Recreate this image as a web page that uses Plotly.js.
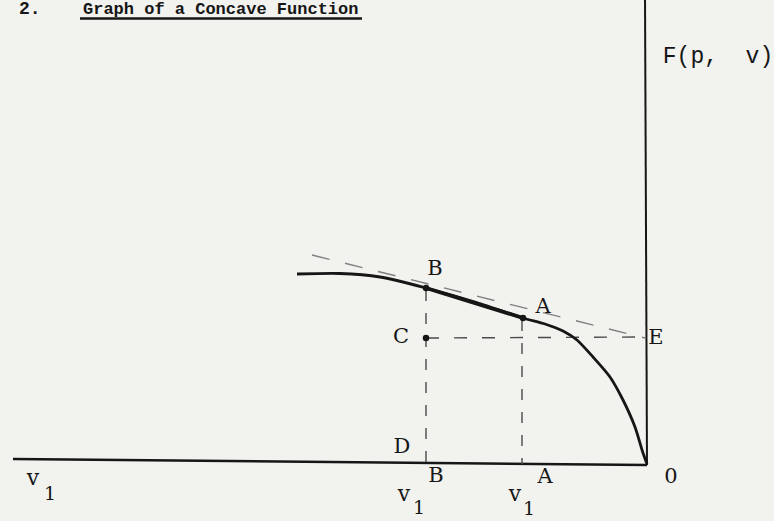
<!DOCTYPE html>
<html>
<head>
<meta charset="utf-8">
<script src="https://cdn.plot.ly/plotly-3.0.1.min.js"></script>
<style>
  html, body { margin: 0; padding: 0; background: #f2f2ef; }
  #plot_div { width: 774px; height: 521px; }
</style>
</head>
<body>
<div id="plot_div"></div>
<script>
// drawing coordinates (x to the right, y downwards)
const curve_x = [297, 340, 380, 426, 475, 523, 545, 563, 577, 593, 610, 623, 635, 643, 647];
const curve_y = [274, 273.5, 277, 288, 302, 318, 324, 331, 340, 357, 377, 400, 427, 453, 464];

const chord_x = [426, 523];
const chord_y = [288, 318];

const tangent_x = [312, 645];
const tangent_y = [255, 338];

const axis_h_x = [13, 647];
const axis_h_y = [459, 465];
const axis_v_x = [645, 647];
const axis_v_y = [-5, 465];

const drop_b_x = [426, 426];
const drop_b_y = [290, 463];
const drop_a_x = [522, 522];
const drop_a_y = [320, 464];
const level_x = [426, 645];
const level_y = [338, 337];

const dot_x = [426, 523, 426];
const dot_y = [288, 318, 338];

// point letters
const label_text = ['B', 'A', 'C', 'E', 'D', 'B', 'A', '0'];
const label_x = [435, 543, 401, 656, 402, 436, 545, 671];
const label_y = [270, 308, 338, 339, 448, 477, 478, 478];

const axis_name = 'F(p,  v)';
const axis_name_x = [718];
const axis_name_y = [57];

// v with its subscript 1, written as in the typescript
const v_x = [33, 404, 515];
const v_y = [479, 495, 495];
const sub_x = [50, 419, 529];
const sub_y = [495, 509, 510];

const serif = '"DejaVu Serif", serif';
const mono = '"Courier New", "Liberation Mono", monospace';
const ink = '#161616';

function seg(x, y, width, color, dash) {
    return {
        x, y, type: 'scatter', mode: 'lines', hoverinfo: 'skip',
        line: {color, width, dash: dash || 'solid'}
    };
}
function words(x, y, text, family, size) {
    return {
        x, y, text, type: 'scatter', mode: 'text', hoverinfo: 'skip',
        textposition: 'middle center',
        textfont: {family, size, color: ink}
    };
}

const curve = seg(curve_x, curve_y, 2.8, ink);
curve.line.shape = 'spline';
curve.line.smoothing = 0.7;

const data = [
    seg(axis_h_x, axis_h_y, 2.4, ink),
    seg(axis_v_x, axis_v_y, 2, ink),
    seg(tangent_x, tangent_y, 1.4, '#808080', '18px,16px'),
    seg(drop_b_x, drop_b_y, 1.4, '#4a4a4a', '11px,12px'),
    seg(drop_a_x, drop_a_y, 1.4, '#4a4a4a', '11px,12px'),
    seg(level_x, level_y, 1.4, '#4a4a4a', '13px,15px'),
    curve,
    seg(chord_x, chord_y, 3.8, ink),
    {
        x: dot_x, y: dot_y, type: 'scatter', mode: 'markers', hoverinfo: 'skip',
        marker: {color: ink, size: 6.5}
    },
    words(label_x, label_y, label_text, serif, 21),
    words(axis_name_x, axis_name_y, [axis_name], mono, 23),
    words(v_x, v_y, v_x.map(() => 'v'), serif, 22),
    words(sub_x, sub_y, sub_x.map(() => '1'), serif, 19)
];

const layout = {
    width: 774,
    height: 521,
    margin: {l: 0, r: 0, t: 0, b: 0},
    paper_bgcolor: '#f2f2ef',
    plot_bgcolor: '#f2f2ef',
    showlegend: false,
    xaxis: {range: [0, 774], visible: false, fixedrange: true},
    yaxis: {range: [521, 0], visible: false, fixedrange: true},
    annotations: [
        {
            text: '<b>2.</b>', x: 30, y: 9, xref: 'x', yref: 'y', showarrow: false,
            font: {family: mono, size: 18, color: ink}
        },
        {
            text: '<b>Graph of a Concave Function</b>', x: 220, y: 9, xref: 'x', yref: 'y',
            showarrow: false,
            font: {family: mono, size: 17, color: ink}
        }
    ],
    shapes: [
        {type: 'line', xref: 'x', yref: 'y', x0: 80, x1: 362, y0: 18.5, y1: 18.5,
         line: {color: ink, width: 2.5}}
    ]
};

Plotly.newPlot('plot_div', data, layout, {displayModeBar: false, staticPlot: true});
</script>
</body>
</html>
